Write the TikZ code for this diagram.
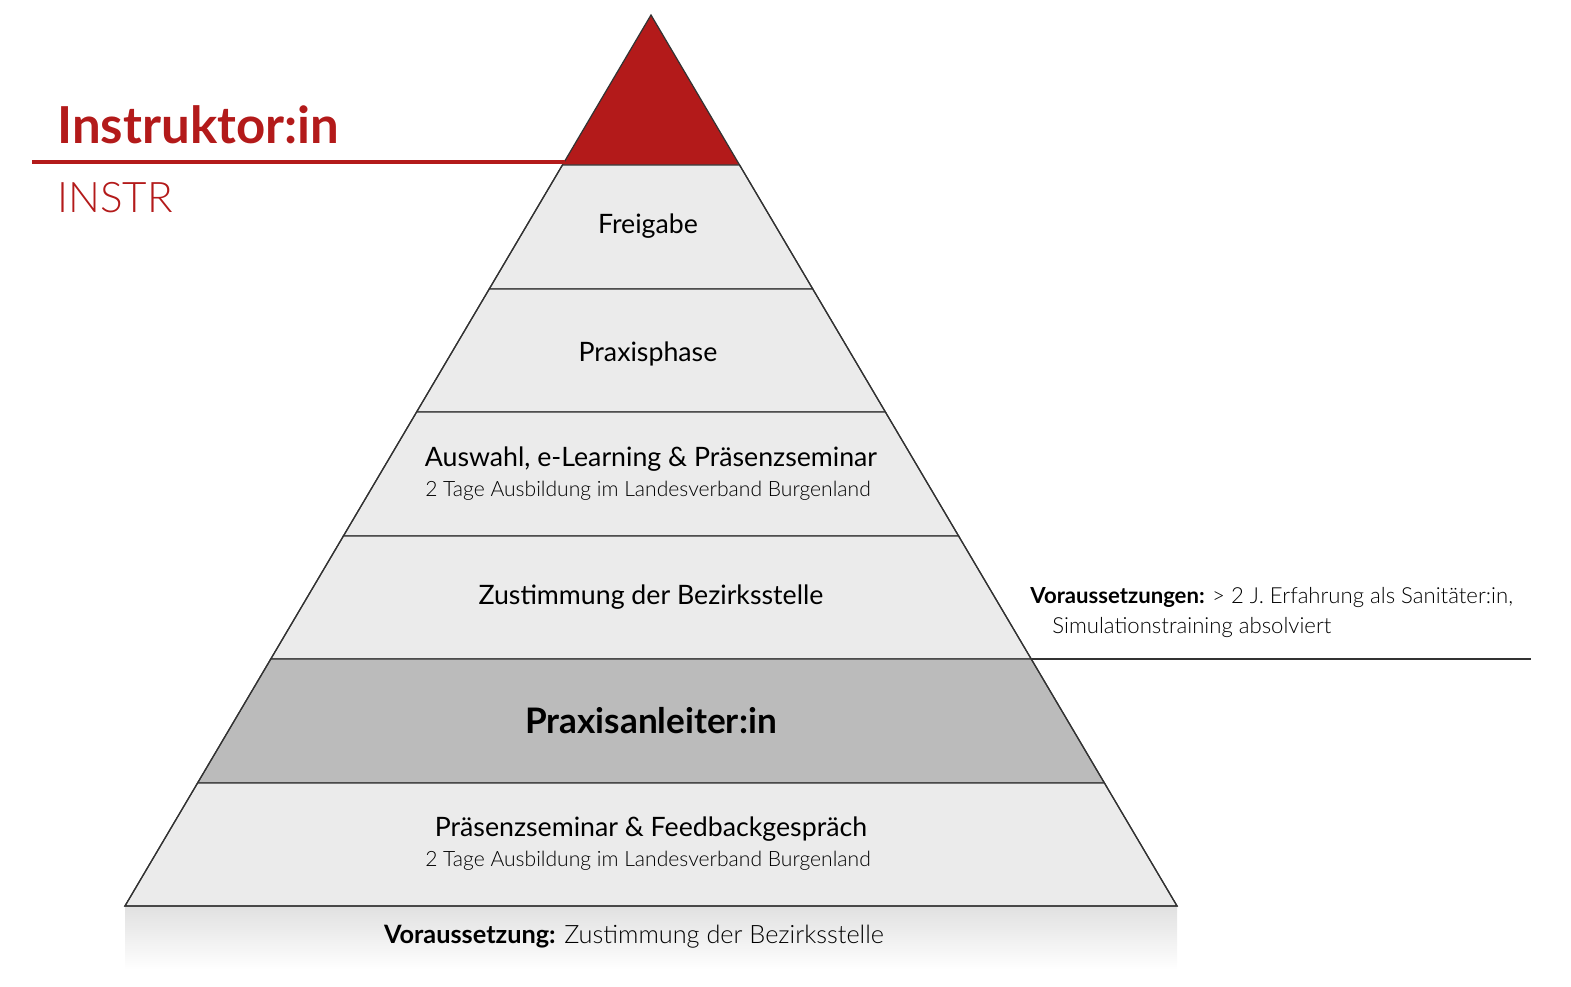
\documentclass[tikz,border=0pt]{standalone}
\usepackage{fontspec}
\setmainfont{Lato}
\newfontfamily\lightf{Lato Light}
\definecolor{rk}{HTML}{B31A1A}
\definecolor{lay}{HTML}{EBEBEB}
\definecolor{dark}{HTML}{BBBBBB}
\begin{document}
\begin{tikzpicture}[x=0.1mm,y=-0.1mm,
  edge/.style={draw=black!80,line width=0.35pt},
  ttl/.style={font=\fontsize{7.6}{9}\selectfont,anchor=center},
  sub/.style={font=\lightf\fontsize{6}{7}\selectfont,anchor=center}]
\useasboundingbox (0,0) rectangle (1571,987);
\def\L#1{651-0.5904*(#1-15)}
\def\R#1{651+0.5904*(#1-15)}
% bottom shade
\shade[top color=black!12,bottom color=white] (125,906) rectangle (1177,970);
% layers
\fill[rk] (651,15) -- ({\R{165}},165) -- ({\L{165}},165) -- cycle;
\foreach \a/\b/\c in {165/289/lay,289/412/lay,412/536/lay,536/659/lay,659/783/dark,783/906/lay}{
  \filldraw[fill=\c,edge] ({\L{\a}},\a) -- ({\R{\a}},\a) -- ({\R{\b}},\b) -- ({\L{\b}},\b) -- cycle;}
\draw[edge] (651,15) -- ({\L{906}},906) -- ({\R{906}},906) -- cycle;
\draw[rk,line width=0.9pt] (32,162) -- (565,162);
\draw[edge] (1031,659) -- (1531,659);
\node[anchor=west,text=rk,font=\bfseries\fontsize{14.5}{16}\selectfont] (t1) at (45,125) {Instruktor:in};
\node[anchor=west,text=rk,font=\lightf\fontsize{12}{14}\selectfont] (t2) at (45,198) {INSTR};
\node[ttl] (n1) at (648,226) {Freigabe};
\node[ttl] (n2) at (648,354) {Praxisphase};
\node[ttl] (n3) at (651,459) {Auswahl, e-Learning \& Präsenzseminar};
\node[sub] (n3b) at (648,491) {2 Tage Ausbildung im Landesverband Burgenland};
\node[ttl] (n4) at (651,597) {Zustimmung der Bezirksstelle};
\node[font=\bfseries\fontsize{10}{12}\selectfont] (n5) at (651,721) {Praxisanleiter:in};
\node[ttl] (n6) at (651,829) {Präsenzseminar \& Feedbackgespräch};
\node[sub] (n6b) at (648,861) {2 Tage Ausbildung im Landesverband Burgenland};
\node[font=\fontsize{7.2}{9}\selectfont] (n7) at (634,937) {\textbf{Voraussetzung:} {\lightf Zustimmung der Bezirksstelle}};
\node[anchor=west,font=\fontsize{6.3}{8}\selectfont] (r1) at (1018,598) {\textbf{Voraussetzungen:} {\lightf > 2 J. Erfahrung als Sanitäter:in,}};
\node[anchor=west,font=\lightf\fontsize{6.3}{8}\selectfont] (r2) at (1040,628) {Simulationstraining absolviert};
\end{tikzpicture}
\end{document}
